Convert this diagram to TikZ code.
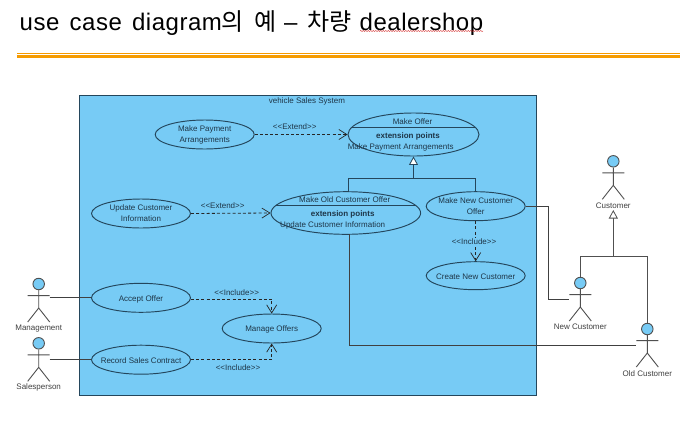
\documentclass[tikz,border=0pt]{standalone}
\usepackage{fontspec}
\setmainfont{Liberation Sans}
\newfontfamily\krfont{Noto Sans CJK KR}
\usetikzlibrary{shapes.geometric,arrows.meta,decorations.pathmorphing,calc}
\definecolor{sysblue}{HTML}{77CBF5}
\definecolor{inkline}{HTML}{24465C}
\definecolor{inktext}{HTML}{1E3648}
\definecolor{outline}{HTML}{505050}
\definecolor{rulecol}{HTML}{F59B00}
\tikzset{
  usecase/.style={draw=inkline,line width=0.95pt,ellipse,inner sep=-25pt,minimum width=99pt,minimum height=29pt,align=center,text=inktext,font=\fontsize{8}{11}\selectfont,execute at begin node={\rule{0pt}{8.2pt}}},
  txt/.style={inner sep=0pt,yshift=-0.8pt,text=inktext,font=\fontsize{8}{11}\selectfont},
  bold/.style={txt,font=\fontsize{8}{11}\selectfont\bfseries},
  actortxt/.style={inner sep=0pt,yshift=-0.8pt,text=black!75,font=\fontsize{8}{11}\selectfont},
  stick/.style={draw=outline,line width=0.9pt},
  assoc/.style={draw=black!75,line width=0.9pt},
  comp/.style={draw=inkline,line width=0.9pt},
  dep/.style={draw=black!85,line width=0.8pt,dash pattern=on 3pt off 2.2pt,-{Straight Barb[length=8pt,width=10pt,line width=0.7pt]}},
  gen/.style={draw=inkline,line width=0.9pt,-{Triangle[open,fill=white,length=8.5pt,width=9pt,line width=0.8pt]}},
  genout/.style={draw=outline,line width=0.9pt,-{Triangle[open,fill=white,length=8.5pt,width=9pt,line width=0.8pt]}},
  headc/.style={circle,draw=outline,line width=0.9pt,fill=sysblue,minimum size=11.5pt,inner sep=0pt}
}
% name, x, head y, label
\newcommand{\ucactor}[4]{%
  \node[headc] (#1) at (#2,#3) {};
  \coordinate (#1-l) at ($(#1.center)+(-11,11.6)$);
  \coordinate (#1-r) at ($(#1.center)+(11,11.6)$);
  \coordinate (#1-h) at ($(#1.center)+(0,24)$);
  \coordinate (#1-fl) at ($(#1.center)+(-11,38)$);
  \coordinate (#1-fr) at ($(#1.center)+(11,38)$);
  \draw[stick] (#1.south) -- (#1-h) -- (#1-fl) (#1-h) -- (#1-fr) (#1-l) -- (#1-r);
  \node[actortxt] (#1-label) at ($(#1.center)+(0,43.4)$) {#4};
}
\begin{document}
\begin{tikzpicture}[x=1pt,y=-1pt]
\useasboundingbox (0,0) rectangle (693,445);
\fill[white] (0,0) rectangle (693,445);
% title
\node[anchor=base west,inner sep=0pt,font=\fontsize{24}{26}\selectfont\addfontfeature{LetterSpace=2.2}] (title) at (19.5,30)
  {use\hspace{3pt} case\hspace{3pt} diagram{\krfont 의}\hspace{10pt}{\krfont 예}\hspace{8pt}–\hspace{10pt}{\krfont 차량}\hspace{8pt}dealershop};
\draw[red!80!black,line width=0.35pt,decorate,decoration={snake,amplitude=0.5pt,segment length=2.5pt}] (360,31) -- (483,31);
\draw[rulecol,line width=0.6pt] (17,53) -- (680,53);
\draw[rulecol,line width=2.8pt] (17,56.2) -- (680,56.2);
% system
\node[draw=inkline,line width=0.9pt,fill=sysblue,minimum width=457.5pt,minimum height=299.7pt,inner sep=0pt] (system) at (307.95,245.2) {};
\node[txt] (systitle) at (307,101) {vehicle Sales System};
% use cases
\node[usecase] (pay) at (204.7,134.5) {Make Payment\\Arrangements};
\node[usecase] (upd) at (141,213.5) {Update Customer\\Information};
\node[usecase,minimum width=131pt,minimum height=43pt] (offer) at (413.5,134.5) {};
\node[usecase,minimum width=149.6pt,minimum height=42.6pt] (old) at (345.8,213) {};
\node[usecase] (new) at (475.7,206.2) {Make New Customer\\Offer};
\node[usecase,minimum height=28pt] (create) at (475.7,275.7) {Create New Customer};
\node[usecase] (accept) at (141,297.8) {Accept Offer};
\node[usecase] (record) at (141,359.7) {Record Sales Contract};
\node[usecase] (manage) at (271.7,328.5) {Manage Offers};
% compartments
\draw[comp] (351.8,127.3) -- (475.2,127.3);
\node[txt] (offertitle) at (412.5,120.7) {Make Offer};
\node[bold] (offerext) at (408,135.7) {extension points};
\node[txt] (offerpt) at (400.7,146.3) {Make Payment Arrangements};
\draw[comp] (275.5,205.7) -- (416.1,205.7);
\node[txt] (oldtitle) at (344.7,199) {Make Old Customer Offer};
\node[bold] (oldext) at (342.7,214) {extension points};
\node[txt] (oldpt) at (332.7,225) {Update Customer Information};
% actors
\ucactor{mgmt}{38.7}{284}{Management}
\ucactor{sales}{38.7}{343.3}{Salesperson}
\ucactor{cust}{613.3}{161.3}{Customer}
\ucactor{newc}{580.3}{283}{New Customer}
\ucactor{oldc}{647.3}{329}{Old Customer}
% associations
\draw[assoc] (mgmt-r |- accept.west) -- (accept.west);
\draw[assoc] (sales-r |- record.west) -- (record.west);
\coordinate (newexit) at (548,206.2);
\coordinate (newc-in) at ($(newc-l)+(0,4.4)$);
\draw[assoc] (new.east) -- (newexit) |- (newc-in);
\coordinate (oldbot) at (349.3,234.2);
\coordinate (oldc-in) at ($(oldc-l)+(0,4.4)$);
\draw[assoc] (oldbot) |- (oldc-in);
% generalisations
\coordinate (tj) at (413.5,178.3);
\draw[gen] (tj) -- (offer.south);
\draw[comp] (348.7,192) -- (348.7,178.3) -- (475.7,178.3) -- (new.north);
\coordinate (cj) at (613.3,256.7);
\coordinate (custtip) at (613.3,210);
\draw[genout] (cj) -- (custtip);
\draw[stick] (newc.north) |- (cj) -| (oldc.north);
% dependencies
\draw[dep] (pay.east) -- (offer.west);
\node[txt] (e1) at (294.7,126) {<{}<Extend>{}>};
\draw[dep] (upd.east) -- (old.west);
\node[txt] (e2) at (222.7,205.3) {<{}<Extend>{}>};
\draw[dep] (new.south) -- (create.north);
\node[txt,fill=sysblue,inner ysep=1pt] (i1) at (474,240.7) {<{}<Include>{}>};
\coordinate (acceptout) at ($(accept.east)+(0,1.2)$);
\draw[dep] (acceptout) -| (manage.north);
\node[txt] (i2) at (236.7,291.8) {<{}<Include>{}>};
\draw[dep] (record.east) -| (manage.south);
\node[txt] (i3) at (238,367.3) {<{}<Include>{}>};
\end{tikzpicture}
\end{document}
